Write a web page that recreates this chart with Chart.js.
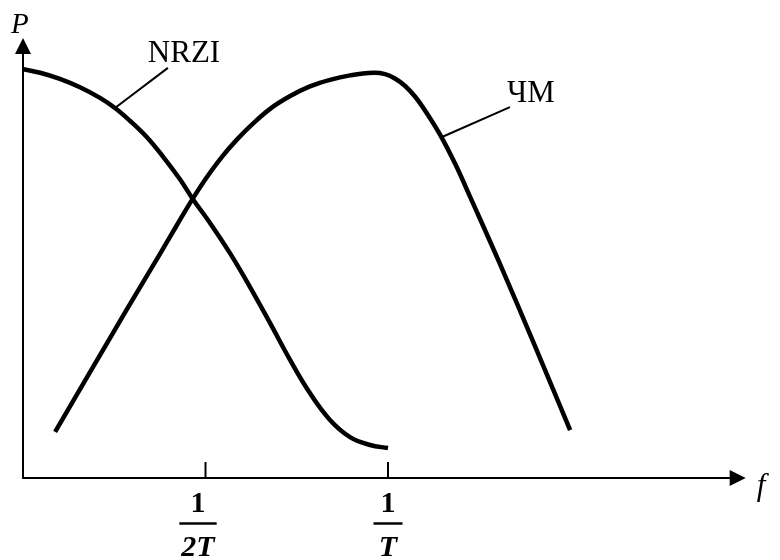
<!DOCTYPE html>
<html>
<head>
<meta charset="utf-8">
<script src="https://cdn.jsdelivr.net/npm/chart.js@4/dist/chart.umd.min.js"></script>
<style>
html,body{margin:0;padding:0;background:#fff;}
#wrap{width:780px;height:560px;position:relative;}
.pre{position:absolute;left:-9999px;font-family:"Liberation Serif";}
</style>
</head>
<body>
<div id="wrap"><canvas id="c" width="780" height="560"></canvas></div>
<span class="pre">NRZI ЧМ</span><span class="pre" style="font-style:italic">P f</span><span class="pre" style="font-weight:bold">1</span><span class="pre" style="font-weight:bold;font-style:italic">2T</span>
<script>
// Frequency in units of 1/T, power normalized
const nrziF = [0.001, 0.047, 0.101, 0.156, 0.211, 0.252, 0.293, 0.339, 0.384, 0.430, 0.467, 0.512, 0.567, 0.622, 0.677, 0.732, 0.786, 0.841, 0.896, 0.951, 1.000];
const nrziP = [0.929, 0.921, 0.907, 0.888, 0.864, 0.841, 0.812, 0.775, 0.730, 0.679, 0.632, 0.580, 0.511, 0.434, 0.352, 0.268, 0.193, 0.132, 0.093, 0.075, 0.068];
const fmF = [0.088, 0.184, 0.280, 0.375, 0.419, 0.463, 0.504, 0.545, 0.586, 0.627, 0.677, 0.732, 0.786, 0.841, 0.896, 0.959, 0.992, 1.019, 1.047, 1.074, 1.101, 1.143, 1.184, 1.225, 1.307, 1.397, 1.499];
const fmP = [0.105, 0.241, 0.377, 0.509, 0.571, 0.632, 0.684, 0.730, 0.769, 0.803, 0.839, 0.868, 0.890, 0.905, 0.915, 0.921, 0.918, 0.908, 0.891, 0.867, 0.836, 0.780, 0.714, 0.639, 0.486, 0.311, 0.109];
const seriesNames = ['NRZI', 'ЧМ'];
const tickValues = [0.5, 1];
const tickNumerators = ['1', '1'];
const tickDenominators = ['2T', 'T'];
const axisLabels = ['P', 'f'];

const pts = (xs, ys) => xs.map((x, i) => ({x: x, y: ys[i]}));

// label anchors: [curve point, leader end, text position] in data units
const callouts = [
  {text: seriesNames[0], from: [0.252, 0.841], to: [0.397, 0.932], textAt: [0.342, 0.945]},
  {text: seriesNames[1], from: [1.148, 0.775], to: [1.334, 0.843], textAt: [1.326, 0.855]}
];

const decor = {
  id: 'decor',
  afterDatasetsDraw(chart) {
    const ctx = chart.ctx, xs = chart.scales.x, ys = chart.scales.y;
    const x0 = xs.getPixelForValue(0), y0 = ys.getPixelForValue(0);
    const yTop = ys.getPixelForValue(1);
    const xEnd = xs.getPixelForValue(1.98);
    ctx.save();
    ctx.strokeStyle = '#000'; ctx.fillStyle = '#000';
    // y axis
    ctx.lineWidth = 2;
    ctx.beginPath(); ctx.moveTo(x0, y0 + 1); ctx.lineTo(x0, yTop + 15); ctx.stroke();
    ctx.beginPath(); ctx.moveTo(x0, yTop); ctx.lineTo(x0 - 8, yTop + 16); ctx.lineTo(x0 + 8, yTop + 16); ctx.closePath(); ctx.fill();
    // x axis
    ctx.beginPath(); ctx.moveTo(x0 - 1, y0); ctx.lineTo(xEnd - 15, y0); ctx.stroke();
    ctx.beginPath(); ctx.moveTo(xEnd, y0); ctx.lineTo(xEnd - 16, y0 - 8); ctx.lineTo(xEnd - 16, y0 + 8); ctx.closePath(); ctx.fill();
    // axis labels
    ctx.font = 'italic 29px "Liberation Serif"';
    ctx.textAlign = 'left'; ctx.textBaseline = 'alphabetic';
    ctx.fillText(axisLabels[0], x0 - 12, yTop - 5);
    ctx.font = 'italic 31px "Liberation Serif"';
    ctx.fillText(axisLabels[1], xEnd + 11, y0 + 17);
    // ticks and fraction labels
    const dxs = [-7.5, 0];
    tickValues.forEach((v, i) => {
      const px = xs.getPixelForValue(v);
      ctx.lineWidth = 2;
      ctx.beginPath(); ctx.moveTo(px, y0); ctx.lineTo(px, y0 - 16); ctx.stroke();
      const cx = px + dxs[i];
      ctx.textAlign = 'center';
      ctx.font = 'bold 30px "Liberation Serif"';
      ctx.fillText(tickNumerators[i], cx, y0 + 34);
      ctx.font = 'bold italic 30px "Liberation Serif"';
      const w = ctx.measureText(tickDenominators[i]).width;
      ctx.fillText(tickDenominators[i], cx, y0 + 78);
      const bw = Math.max(w + 4, 29);
      ctx.lineWidth = 2.5;
      ctx.beginPath(); ctx.moveTo(cx - bw / 2, y0 + 45.5); ctx.lineTo(cx + bw / 2, y0 + 45.5); ctx.stroke();
    });
    // callouts
    callouts.forEach(c => {
      ctx.lineWidth = 2;
      ctx.beginPath();
      ctx.moveTo(xs.getPixelForValue(c.from[0]), ys.getPixelForValue(c.from[1]));
      ctx.lineTo(xs.getPixelForValue(c.to[0]), ys.getPixelForValue(c.to[1]));
      ctx.stroke();
      ctx.font = '31px "Liberation Serif"';
      ctx.textAlign = 'left';
      ctx.fillText(c.text, xs.getPixelForValue(c.textAt[0]), ys.getPixelForValue(c.textAt[1]));
    });
    ctx.restore();
  }
};

function build() {
  new Chart(document.getElementById('c'), {
    type: 'line',
    data: {
      datasets: [
        {label: seriesNames[0], data: pts(nrziF, nrziP), borderColor: '#000', borderWidth: 4.5, pointRadius: 0, tension: 0.4, fill: false, borderCapStyle: 'butt'},
        {label: seriesNames[1], data: pts(fmF, fmP), borderColor: '#000', borderWidth: 4.5, pointRadius: 0, tension: 0.4, fill: false, borderCapStyle: 'butt'}
      ]
    },
    options: {
      responsive: false,
      animation: false,
      events: [],
      layout: {padding: {left: 23, top: 38, right: 27, bottom: 82}},
      plugins: {legend: {display: false}, tooltip: {enabled: false}},
      scales: {
        x: {type: 'linear', min: 0, max: 2, display: false},
        y: {type: 'linear', min: 0, max: 1, display: false}
      }
    },
    plugins: [decor]
  });
}

const fontLoads = [
  '31px "Liberation Serif"', 'italic 29px "Liberation Serif"',
  'bold 30px "Liberation Serif"', 'bold italic 30px "Liberation Serif"'
].map(f => document.fonts.load(f, 'NRZIЧМPf12T'));
Promise.all(fontLoads).then(build, build);
</script>
</body>
</html>
